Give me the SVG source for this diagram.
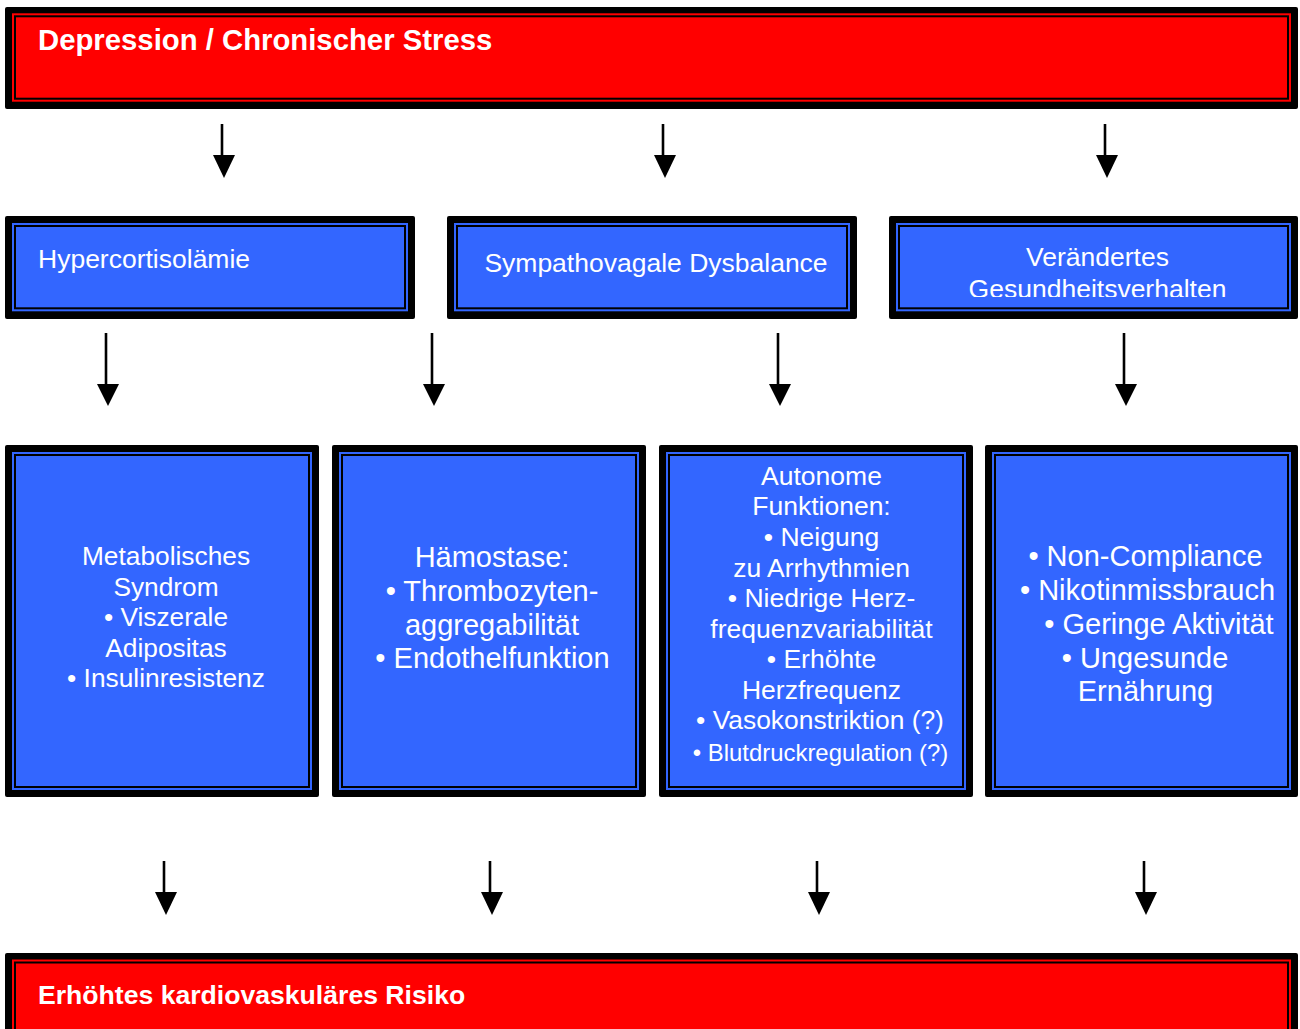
<svg xmlns="http://www.w3.org/2000/svg" width="1300" height="1029" viewBox="0 0 1300 1029">
<style>
.outer{fill:#000}
.red{fill:#FF0000}
.blue{fill:#3366FF}
.redin{fill:#FF0000;stroke:#000;stroke-width:2}
.bluein{fill:#3366FF;stroke:#000;stroke-width:2}
text{font-family:"Liberation Sans",Arial,Helvetica,sans-serif;fill:#fff}
.b{font-weight:bold}
.c{text-anchor:middle}
.stem{stroke:#000;stroke-width:2.6;fill:none}
.head{fill:#000}
</style>
<defs>
<clipPath id="clip3"><rect x="897" y="227" width="393" height="70"/></clipPath>
</defs>
<rect width="1300" height="1029" fill="#fff"/>

<g id="top">
<rect class="outer" x="5" y="7" width="1293" height="102" rx="2"/>
<rect class="red" x="12" y="13.3" width="1279" height="88.4"/>
<rect class="redin" x="15" y="16.3" width="1273" height="82.4"/>
<text class="b" x="38" y="49.5" font-size="29.3">Depression / Chronischer Stress</text>
</g>

<g id="hyper">
<rect class="outer" x="5" y="216" width="410" height="103" rx="2"/>
<rect class="blue" x="12" y="223" width="396" height="88.3"/>
<rect class="bluein" x="15" y="226" width="390" height="82.3"/>
<text x="38" y="268" font-size="26.5">Hypercortisolämie</text>
</g>

<g id="sympatho">
<rect class="outer" x="447" y="216" width="410" height="103" rx="2"/>
<rect class="blue" x="454" y="223" width="396" height="88.3"/>
<rect class="bluein" x="457" y="226" width="390" height="82.3"/>
<text class="c" x="656" y="272" font-size="26.5">Sympathovagale Dysbalance</text>
</g>

<g id="verhalten">
<rect class="outer" x="889" y="216" width="409" height="103" rx="2"/>
<rect class="blue" x="896" y="223" width="395" height="88.3"/>
<rect class="bluein" x="899" y="226" width="389" height="82.3"/>
<g clip-path="url(#clip3)">
<text class="c" x="1097.5" y="266" font-size="26.5">Verändertes</text>
<text class="c" x="1097.5" y="298" font-size="26.5">Gesundheitsverhalten</text>
</g>
</g>

<g id="metabol">
<rect class="outer" x="5" y="445" width="314" height="352" rx="2"/>
<rect class="blue" x="12" y="452" width="300" height="338"/>
<rect class="bluein" x="15" y="455" width="294" height="332"/>
<text class="c" x="166" y="565" font-size="26.3">Metabolisches</text>
<text class="c" x="166" y="595.5" font-size="26.3">Syndrom</text>
<text class="c" x="166" y="626" font-size="26.3">• Viszerale</text>
<text class="c" x="166" y="656.5" font-size="26.3">Adipositas</text>
<text class="c" x="166" y="687" font-size="26.3">• Insulinresistenz</text>
</g>

<g id="haemo">
<rect class="outer" x="332" y="445" width="314" height="352" rx="2"/>
<rect class="blue" x="339" y="452" width="300" height="338"/>
<rect class="bluein" x="342" y="455" width="294" height="332"/>
<text class="c" x="492" y="567" font-size="29">Hämostase:</text>
<text class="c" x="492" y="601" font-size="29">• Thrombozyten-</text>
<text class="c" x="492" y="634.5" font-size="29">aggregabilität</text>
<text class="c" x="492.5" y="668" font-size="29">• Endothelfunktion</text>
</g>

<g id="autonom">
<rect class="outer" x="659" y="445" width="314" height="352" rx="2"/>
<rect class="blue" x="666" y="452" width="300" height="338"/>
<rect class="bluein" x="669" y="455" width="294" height="332"/>
<text class="c" x="821.5" y="485" font-size="26.5">Autonome</text>
<text class="c" x="821.5" y="515" font-size="26.5">Funktionen:</text>
<text class="c" x="821.5" y="546" font-size="26.5">• Neigung</text>
<text class="c" x="821.5" y="576.5" font-size="26.5">zu Arrhythmien</text>
<text class="c" x="821.5" y="607" font-size="26.5">• Niedrige Herz-</text>
<text class="c" x="821.5" y="637.5" font-size="26.5">frequenzvariabilität</text>
<text class="c" x="821.5" y="668" font-size="26.5">• Erhöhte</text>
<text class="c" x="821.5" y="698.5" font-size="26.5">Herzfrequenz</text>
<text class="c" x="820" y="729" font-size="26.4">• Vasokonstriktion (?)</text>
<text class="c" x="820.5" y="760.5" font-size="23.9">• Blutdruckregulation (?)</text>
</g>

<g id="verhalten2">
<rect class="outer" x="985" y="445" width="313" height="352" rx="2"/>
<rect class="blue" x="992" y="452" width="299" height="338"/>
<rect class="bluein" x="995" y="455" width="293" height="332"/>
<text class="c" x="1145.5" y="566" font-size="29">• Non-Compliance</text>
<text class="c" x="1147.5" y="600" font-size="29">• Nikotinmissbrauch</text>
<text class="c" x="1159" y="634" font-size="29">• Geringe Aktivität</text>
<text class="c" x="1145" y="668" font-size="29">• Ungesunde</text>
<text class="c" x="1145.5" y="701" font-size="29">Ernährung</text>
</g>

<g id="bottom">
<rect class="outer" x="5" y="953" width="1293" height="90" rx="2"/>
<rect class="red" x="12" y="959.5" width="1279" height="80"/>
<rect class="redin" x="15" y="962.5" width="1273" height="80"/>
<text class="b" x="38" y="1004" font-size="26.6">Erhöhtes kardiovaskuläres Risiko</text>
</g>

<g id="connectors">
<line class="stem" x1="222" y1="124" x2="222" y2="157"/><polygon class="head" points="213,155 235,155 224,178"/>
<line class="stem" x1="663" y1="124" x2="663" y2="157"/><polygon class="head" points="654,155 676,155 665,178"/>
<line class="stem" x1="1105" y1="124" x2="1105" y2="157"/><polygon class="head" points="1096,155 1118,155 1107,178"/>

<line class="stem" x1="106" y1="333" x2="106" y2="386"/><polygon class="head" points="97,384 119,384 108,406"/>
<line class="stem" x1="432" y1="333" x2="432" y2="386"/><polygon class="head" points="423,384 445,384 434,406"/>
<line class="stem" x1="778" y1="333" x2="778" y2="386"/><polygon class="head" points="769,384 791,384 780,406"/>
<line class="stem" x1="1124" y1="333" x2="1124" y2="386"/><polygon class="head" points="1115,384 1137,384 1126,406"/>

<line class="stem" x1="164" y1="861" x2="164" y2="894"/><polygon class="head" points="155,892 177,892 166,915"/>
<line class="stem" x1="490" y1="861" x2="490" y2="894"/><polygon class="head" points="481,892 503,892 492,915"/>
<line class="stem" x1="817" y1="861" x2="817" y2="894"/><polygon class="head" points="808,892 830,892 819,915"/>
<line class="stem" x1="1144" y1="861" x2="1144" y2="894"/><polygon class="head" points="1135,892 1157,892 1146,915"/>
</g>
</svg>
